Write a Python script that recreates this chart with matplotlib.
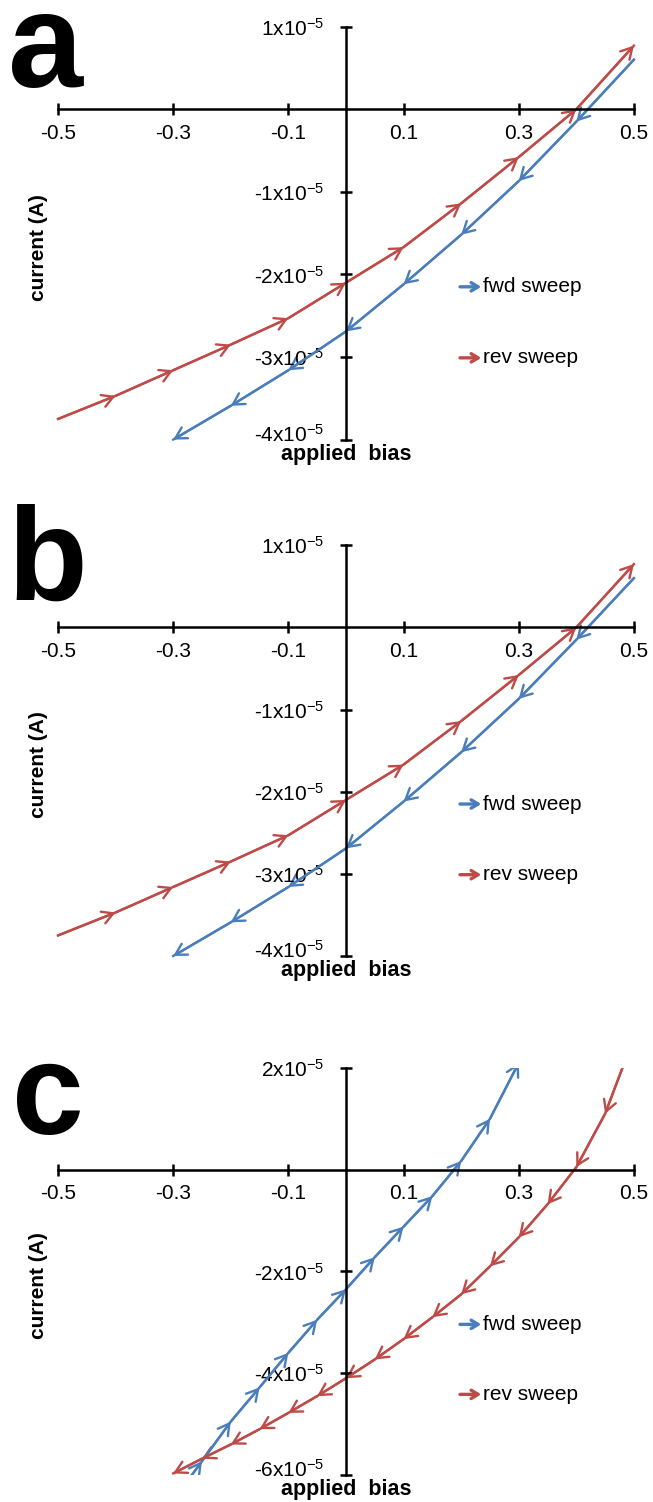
import matplotlib
matplotlib.use('Agg')
import matplotlib.pyplot as plt
import matplotlib.transforms as mtransforms
from matplotlib.patches import FancyArrowPatch

plt.rcParams['font.family'] = 'Liberation Sans'
plt.rcParams['mathtext.fontset'] = 'custom'
plt.rcParams['mathtext.rm'] = 'Liberation Sans'
plt.rcParams['mathtext.default'] = 'regular'
plt.rcParams['axes.unicode_minus'] = False

# current values are in units of 1e-5 A
# panel a
bias_rev_a = [-0.5, -0.4, -0.3, -0.2, -0.1, 0.0, 0.1, 0.2, 0.3, 0.4, 0.5]
cur_rev_a = [-3.75, -3.47, -3.16, -2.85, -2.53, -2.10, -1.67, -1.14, -0.58, 0.0, 0.77]
bias_fwd_a = [0.5, 0.4, 0.3, 0.2, 0.1, 0.0, -0.1, -0.2, -0.3]
cur_fwd_a = [0.60, -0.15, -0.87, -1.52, -2.12, -2.69, -3.16, -3.59, -4.0]

# panel b
bias_rev_b = [-0.5, -0.4, -0.3, -0.2, -0.1, 0.0, 0.1, 0.2, 0.3, 0.4, 0.5]
cur_rev_b = [-3.75, -3.47, -3.16, -2.85, -2.53, -2.10, -1.67, -1.14, -0.58, 0.0, 0.77]
bias_fwd_b = [0.5, 0.4, 0.3, 0.2, 0.1, 0.0, -0.1, -0.2, -0.3]
cur_fwd_b = [0.60, -0.15, -0.87, -1.52, -2.12, -2.69, -3.16, -3.59, -4.0]

# panel c
bias_fwd_c = [-0.30, -0.25, -0.20, -0.15, -0.10, -0.05, 0.0, 0.05, 0.10, 0.15, 0.20, 0.25, 0.30]
cur_fwd_c = [-6.5, -5.73, -4.95, -4.28, -3.60, -2.95, -2.35, -1.72, -1.12, -0.52, 0.17, 1.0, 2.1]
bias_rev_c = [0.50, 0.45, 0.40, 0.35, 0.30, 0.25, 0.20, 0.15, 0.10, 0.05, 0.0,
              -0.05, -0.10, -0.15, -0.20, -0.25, -0.30]
cur_rev_c = [2.6, 1.1, 0.05, -0.68, -1.33, -1.90, -2.45, -2.90, -3.33, -3.73, -4.10,
             -4.45, -4.78, -5.10, -5.40, -5.68, -5.97]

x_ticks = [-0.5, -0.3, -0.1, 0.1, 0.3, 0.5]
x_labels = ['-0.5', '-0.3', '-0.1', '0.1', '0.3', '0.5']
y_ticks_ab = [1, -1, -2, -3, -4]
y_ticks_c = [2, -2, -4, -6]

blue = '#4a7ebb'
red = '#be4b48'


def sweep(ax, xs, ys, color, clip):
    ax.plot(xs, ys, color=color, lw=1.7, clip_on=clip)
    for i in range(len(xs) - 1):
        arr = FancyArrowPatch((xs[i], ys[i]), (xs[i + 1], ys[i + 1]),
                              arrowstyle='->,head_length=0.8,head_width=0.45',
                              mutation_scale=10, color=color, lw=1.7,
                              shrinkA=0, shrinkB=0)
        ax.add_patch(arr)
        arr.set_clip_on(clip)


def setup(ax, ylim, yticks):
    ax.set_xlim(-0.5, 0.5)
    ax.set_ylim(*ylim)
    ax.spines['left'].set_position(('data', 0))
    ax.spines['bottom'].set_position(('data', 0))
    ax.spines['top'].set_visible(False)
    ax.spines['right'].set_visible(False)
    for s in ['left', 'bottom']:
        ax.spines[s].set_linewidth(1.8)
    ax.set_xticks(x_ticks)
    ax.set_xticklabels(x_labels)
    ax.set_yticks(yticks)
    ax.set_yticklabels(['%dx10$^{-5}$' % v for v in yticks])
    ax.tick_params(axis='both', direction='inout', length=9, width=1.8, labelsize=15)
    ax.tick_params(axis='x', pad=6)
    ax.tick_params(axis='y', pad=11)
    # lowest y label sits a little above its tick, clear of the axis title
    low = ax.get_yticklabels()[-1]
    low.set_transform(low.get_transform() +
                      mtransforms.ScaledTranslation(0, 5 / 72, ax.figure.dpi_scale_trans))
    ax.patch.set_alpha(0)
    ax.text(-0.034, 0.465, 'current (A)', transform=ax.transAxes, rotation=90,
            ha='center', va='center', fontsize=15, fontweight='bold')
    ax.text(0.5, -0.036, 'applied  bias', transform=ax.transAxes,
            ha='center', va='center', fontsize=15.5, fontweight='bold')
    # legend
    for yy, col, txt in [(0.37, blue, 'fwd sweep'), (0.198, red, 'rev sweep')]:
        ax.annotate('', xy=(0.735, yy), xytext=(0.698, yy), xycoords='axes fraction',
                    arrowprops=dict(arrowstyle='->,head_length=0.5,head_width=0.3',
                                    color=col, lw=2.4, shrinkA=0, shrinkB=0))
        ax.text(0.738, yy, txt, transform=ax.transAxes, ha='left', va='center',
                fontsize=15)


fig = plt.figure(figsize=(6.53, 15.02), dpi=100)
ax_a = fig.add_axes([0.0888, 0.7073, 0.882, 0.275])
ax_b = fig.add_axes([0.0888, 0.3635, 0.882, 0.2735])
ax_c = fig.add_axes([0.0888, 0.018, 0.882, 0.271])

setup(ax_a, (-4, 1), y_ticks_ab)
sweep(ax_a, bias_rev_a, cur_rev_a, red, False)
sweep(ax_a, bias_fwd_a, cur_fwd_a, blue, False)

setup(ax_b, (-4, 1), y_ticks_ab)
sweep(ax_b, bias_rev_b, cur_rev_b, red, False)
sweep(ax_b, bias_fwd_b, cur_fwd_b, blue, False)

setup(ax_c, (-6, 2), y_ticks_c)
sweep(ax_c, bias_fwd_c, cur_fwd_c, blue, True)
sweep(ax_c, bias_rev_c, cur_rev_c, red, True)

fig.text(0.012, 0.942, 'a', fontsize=97, fontweight='bold', va='baseline')
fig.text(0.012, 0.6005, 'b', fontsize=94, fontweight='bold', va='baseline')
fig.text(0.018, 0.245, 'c', fontsize=93, fontweight='bold', va='baseline')

fig.savefig('out.png', dpi=100, facecolor='white')
